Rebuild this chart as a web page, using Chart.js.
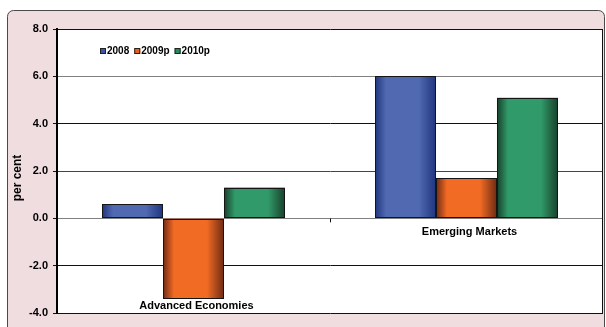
<!DOCTYPE html>
<html>
<head>
<meta charset="utf-8">
<script src="https://cdn.jsdelivr.net/npm/chart.js@4.4.0/dist/chart.umd.min.js"></script>
<style>
  html, body { margin: 0; padding: 0; background: #fff; }
  canvas { display: block; }
</style>
</head>
<body>
<canvas id="growth" width="606" height="327"></canvas>
<script>
// data
const categories = ['Advanced Economies', 'Emerging Markets'];
const seriesNames = ['2008', '2009p', '2010p'];
const values2008 = [0.6, 6.0];
const values2009p = [-3.4, 1.7];
const values2010p = [1.3, 5.1];
const yTicks = [-4, -2, 0, 2, 4, 6, 8];

// flat colour (legend) and gradient edge / middle colours per series
const flat = ['#3b56a4', '#e9611f', '#2a8a5c'];
const edge = ['#1f357f', '#6e2a14', '#17402a'];
const mid = ['#5069b0', '#f26b24', '#319a6a'];

// where the two category labels sit (pixels, as in the picture)
const catLabelY = [306, 232];

const frame = {
  id: 'frame',
  beforeDraw(chart) {
    const c = chart.ctx, a = chart.chartArea;
    c.save();
    c.fillStyle = '#fff';
    c.fillRect(0, 0, chart.width, chart.height);
    // pink rounded panel
    c.beginPath();
    c.roundRect(7.5, 10.5, 597, 330, 6);
    c.fillStyle = '#f0dde0';
    c.fill();
    c.strokeStyle = '#4a4a4a';
    c.lineWidth = 1;
    c.stroke();
    c.fillStyle = '#fff';
    c.fillRect(a.left, a.top, a.right - a.left, a.bottom - a.top);
    c.restore();
  },
  afterDatasetsDraw(chart) {
    const c = chart.ctx;
    c.save();
    chart.data.datasets.forEach((ds, i) => {
      chart.getDatasetMeta(i).data.forEach(el => {
        const p = el.getProps(['x', 'y', 'base', 'width'], true);
        const left = Math.round(p.x - p.width / 2), right = Math.round(p.x + p.width / 2);
        const top = Math.round(Math.min(p.y, p.base)), bottom = Math.round(Math.max(p.y, p.base));
        const g = c.createLinearGradient(left, 0, right, 0);
        g.addColorStop(0, edge[i]);
        g.addColorStop(0.18, mid[i]);
        g.addColorStop(0.72, mid[i]);
        g.addColorStop(1, edge[i]);
        c.fillStyle = g;
        c.fillRect(left, top, right - left, bottom - top);
        c.strokeStyle = '#151515';
        c.lineWidth = 1;
        c.strokeRect(left + 0.5, top + 0.5, right - left - 1, bottom - top - 1);
      });
    });
    c.restore();
  },
  afterDraw(chart) {
    const c = chart.ctx, a = chart.chartArea;
    const xs = chart.scales.x, ys = chart.scales.y;
    c.save();
    // right frame edge
    c.strokeStyle = '#111';
    c.lineWidth = 1;
    c.beginPath();
    c.moveTo(a.right - 0.5, a.top);
    c.lineTo(a.right - 0.5, a.bottom);
    c.stroke();
    // small tick between categories below zero line
    const mx = Math.round((xs.getPixelForValue(0) + xs.getPixelForValue(1)) / 2) + 0.5;
    const zy = ys.getPixelForValue(0);
    c.beginPath();
    c.moveTo(mx, zy);
    c.lineTo(mx, zy + 4);
    c.stroke();
    // category labels
    c.fillStyle = '#000';
    c.font = 'bold 11px "Liberation Sans", Arial, sans-serif';
    c.textAlign = 'center';
    c.textBaseline = 'middle';
    categories.forEach((name, i) => {
      c.fillText(name, xs.getPixelForValue(i) + 3, catLabelY[i]);
    });
    // y title
    c.save();
    c.font = 'bold 12px "Liberation Sans", Arial, sans-serif';
    c.translate(18, 178);
    c.rotate(-Math.PI / 2);
    c.fillText('per cent', 0, 0);
    c.restore();
    // legend inside the plot
    c.font = 'bold 10px "Liberation Sans", Arial, sans-serif';
    c.textAlign = 'left';
    let x = 100;
    const ly = 51;
    chart.data.datasets.forEach((ds, i) => {
      c.fillStyle = flat[i];
      c.fillRect(x, ly - 3, 6, 6);
      c.strokeStyle = '#222';
      c.strokeRect(x + 0.5, ly - 2.5, 5, 5);
      c.fillStyle = '#000';
      c.fillText(ds.label, x + 7, ly);
      x += 7 + c.measureText(ds.label).width + 5;
    });
    c.restore();
  }
};

const gridColour = v => (v === 6 || v === 0) ? '#808080' : (v === 2 ? '#444' : '#111');

new Chart(document.getElementById('growth'), {
  type: 'bar',
  data: {
    labels: categories,
    datasets: [
      { label: seriesNames[0], data: values2008, backgroundColor: flat[0] },
      { label: seriesNames[1], data: values2009p, backgroundColor: flat[1] },
      { label: seriesNames[2], data: values2010p, backgroundColor: flat[2] }
    ]
  },
  options: {
    responsive: false,
    animation: false,
    devicePixelRatio: 1,
    layout: { padding: { top: 29, right: 3, bottom: 14, left: 0 } },
    datasets: { bar: { categoryPercentage: 0.67, barPercentage: 1.0, borderWidth: 0 } },
    plugins: { legend: { display: false }, tooltip: { enabled: false } },
    scales: {
      x: { display: false, offset: true },
      y: {
        min: -4,
        max: 8,
        afterBuildTicks: s => { s.ticks = yTicks.map(v => ({ value: v })); },
        afterFit: s => { s.width = 57; },
        ticks: {
          padding: 5,
          color: '#000',
          font: { family: '"Liberation Sans", Arial, sans-serif', size: 11, weight: 'bold' },
          callback: v => v.toFixed(1)
        },
        grid: {
          color: c => gridColour(c.tick.value),
          tickColor: '#111',
          tickLength: 4,
          lineWidth: 1
        },
        border: { color: '#000', width: 2 }
      }
    }
  },
  plugins: [frame]
});
</script>
</body>
</html>
